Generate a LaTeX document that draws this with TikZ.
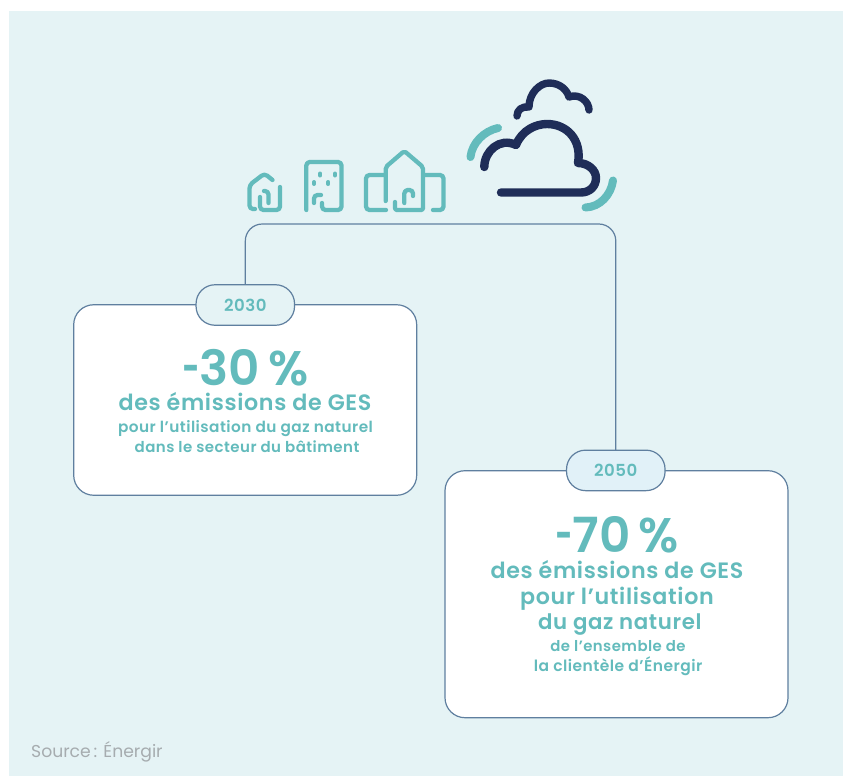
\documentclass[tikz,border=0pt]{standalone}
\usepackage{fontspec}
\setmainfont{Poppins}[BoldFont={Poppins SemiBold},LetterSpace=3]
\newfontfamily\bigfam{Poppins}[BoldFont={Poppins SemiBold}]
\definecolor{bgc}{HTML}{E5F3F5}
\definecolor{teal}{HTML}{63BBBC}
\definecolor{navy}{HTML}{1F2D58}
\definecolor{linec}{HTML}{5F7F9F}
\definecolor{pillb}{HTML}{E1F1F8}
\definecolor{srcc}{HTML}{A6ACAF}
\tikzset{
 card/.style={draw=linec,line width=1.2pt,fill=white,rounded corners=20pt,minimum width=#1,inner sep=0pt,outer sep=0pt},
 pill/.style={draw=linec,line width=1.2pt,rounded corners=19pt,minimum width=98.5pt,minimum height=40.5pt,inner sep=0pt,outer sep=0pt,text=teal,font=\fontsize{16.6}{18}\selectfont\bfseries},
 conn/.style={draw=linec,line width=1.2pt,rounded corners=17pt},
 icon/.style={draw=teal,line width=4.3pt,line cap=round,line join=round,rounded corners=3.5pt,fill=none},
 cloudb/.style={draw=navy,line width=8.4pt,line cap=round,line join=round,fill=none},
 cloudc/.style={draw=navy,line width=7.4pt,line cap=round,line join=round,fill=none},
 arcs/.style={draw=teal,line width=8pt,line cap=round,fill=none},
 txt/.style={text=teal,align=center,inner sep=0pt,anchor=base},
}
\newcommand{\bigt}{\bigfam\fontsize{48.5}{50}\selectfont\bfseries}
\newcommand{\midt}[1][22.2]{\fontsize{#1}{24}\selectfont\bfseries}
\newcommand{\smlt}[1][15.3]{\fontsize{#1}{24}\selectfont\bfseries}
\newcommand{\bighy}{\scalebox{.62}[1]{-}}
\begin{document}
\begin{tikzpicture}[x=1pt,y=-1pt]
\useasboundingbox (0,0) rectangle (843,776);
\fill[bgc] (9,11) rectangle (843,776);
\node[card=343pt,minimum height=190.5pt] (c1) at (245.2,400) {};
\node[card=343pt,minimum height=247pt] (c2) at (616.5,594.2) {};
\node[pill,fill=bgc] (p1) at (245.3,305) {\raisebox{-1.2pt}{2030}};
\node[pill,fill=pillb] (p2) at (615.8,470.4) {\raisebox{-1.2pt}{2050}};
\coordinate (top) at (430,224);
\draw[conn] (p1.north) -- (p1.north |- top) -- (p2.north |- top) -- (p2.north);
\node[txt] (t1a) at (245.5,385.5) {\bigt \bighy 30\,\%};
\node[txt] (t1b) at (245,410) {\midt des émissions de GES};
\node[txt] (t1c) at (245.5,432.8) {\smlt pour l’utilisation du gaz naturel};
\node[txt] (t1d) at (245,452.5) {\smlt[15] dans le secteur du bâtiment};
\node[txt] (t2a) at (617,552.5) {\bigt \bighy 70\,\%};
\node[txt] (t2b) at (617,578) {\midt des émissions de GES};
\node[txt] (t2c) at (617,604.5) {\midt pour l’utilisation};
\node[txt] (t2d) at (617,629.5) {\midt[21.3] du gaz naturel};
\node[txt] (t2e) at (616,651.5) {\smlt[14.9] de l’ensemble de};
\node[txt] (t2f) at (616,671.5) {\smlt[15.5] la clientèle d’Énergir};
\node[anchor=base west,inner sep=0pt,text=srcc,font=\bigfam\fontsize{17.2}{20}\selectfont] (src) at (31,757.5) {Source\,: Énergir};
% house 1
\draw[icon] (255,209) -- (249.5,209) -- (249.5,185) -- (264.5,173.5) -- (272.5,180);
\draw[icon] (280,187) -- (280,210) -- (260,210) -- (260,197);
\draw[icon] (264,191) -- (268.5,191) -- (268.5,203);
% building
\draw[icon] (306.3,210) -- (306.3,162) -- (341.5,162) -- (341.5,210) -- (322,210) -- (322,203);
\draw[icon] (321,195) -- (314,195) -- (314,203);
\draw[teal,line width=4pt,line cap=round] (320.3,173.5) -- (320.3,175.5) (335,173.5) -- (335,175.5) (314,182) -- (314,184) (328.3,182) -- (328.3,184);
% group
\draw[icon,rounded corners=2pt] (385.7,201) -- (385.7,167) -- (404.3,151) -- (423,167) -- (423,210) -- (395,210) -- (395,202);
\draw[icon] (384,175) -- (366,175) -- (366,210) -- (386,210);
\draw[icon] (425,175) -- (443.5,175) -- (443.5,210) -- (433,210);
\draw[icon] (404.3,203) -- (404.3,190) -- (413,190) -- (413,196);
% clouds
\draw[cloudb] (484.3,167) .. controls (484.3,151) and (500,137) .. (516,145) .. controls (522,130) and (536,124) .. (547,124) .. controls (567,124) and (582,140) .. (578,163) .. controls (588,163) and (596,170) .. (596,178) .. controls (596,186) and (590,192.5) .. (581,192.5) -- (501,192.5);
\draw[cloudc] (517,116) .. controls (517,110) and (522,106) .. (529,107) .. controls (529,93) and (540,83) .. (549,83) .. controls (560,83) and (567,90) .. (569,97) .. controls (580,93) and (589,102) .. (589,110);
\draw[arcs] (470.5,157) .. controls (472,143) and (484,131) .. (498,128);
\draw[arcs] (585.5,207.5) .. controls (600,207) and (611,195) .. (613,180.5);
\end{tikzpicture}
\end{document}
